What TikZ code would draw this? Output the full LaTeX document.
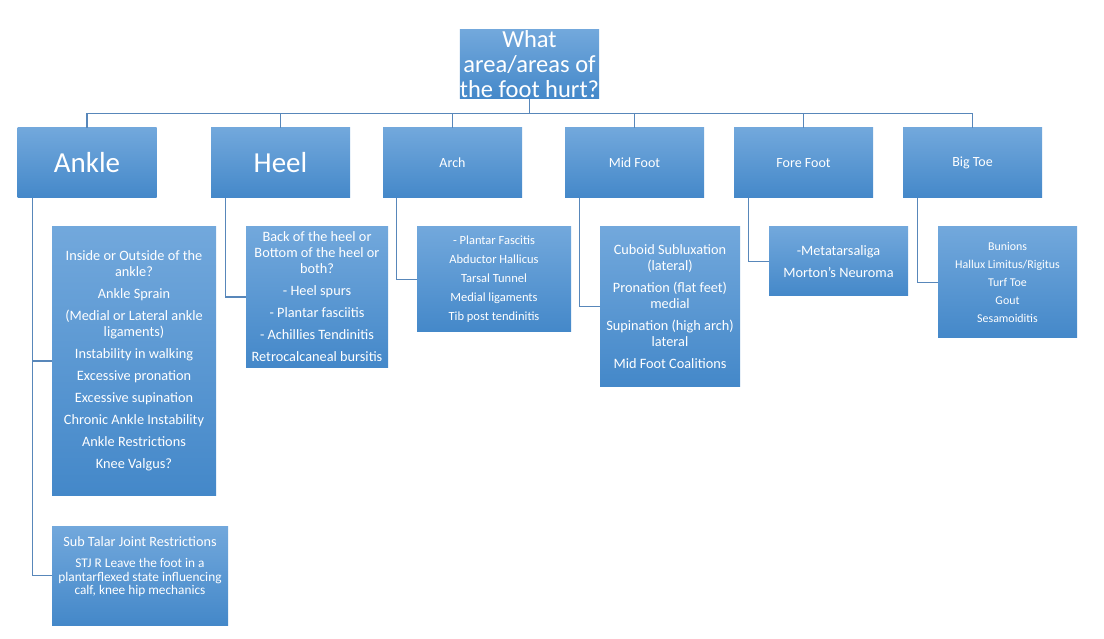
\documentclass[tikz,border=0pt]{standalone}
\usepackage{fontspec}
\setmainfont{Carlito}
\usetikzlibrary{positioning}
\definecolor{boxtop}{RGB}{114,168,220}
\definecolor{boxmid}{RGB}{86,153,218}
\definecolor{boxbot}{RGB}{68,136,201}
\definecolor{linecol}{RGB}{88,135,186}
\tikzstyle{box} = [rectangle, inner sep=0pt, text=white, align=center, top color=boxtop, middle color=boxmid, bottom color=boxbot]
\tikzstyle{head} = [box, minimum width=139pt, minimum height=70pt, font=\fontsize{14}{16}\selectfont]
\tikzstyle{list} = [box, font=\fontsize{14.3}{16}\selectfont]
\tikzstyle{line} = [linecol, line width=1.2pt]

\begin{document}
\begin{tikzpicture}[x=1pt, y=-1pt]
\useasboundingbox (0,0) rectangle (1104,639);
\node (top) [box, minimum width=139pt, minimum height=69pt, font=\fontsize{24.5}{25}\selectfont] at (529.5,64.5) {What\\area/areas of\\the foot hurt?};

\node (ankle) [head, font=\fontsize{29}{32}\selectfont] at (87,163) {Ankle};
\node (heel) [head, font=\fontsize{29}{32}\selectfont] at (280.5,163) {Heel};
\node (arch) [head] at (452.5,163) {Arch};
\node (midfoot) [head] at (634.5,163) {Mid Foot};
\node (forefoot) [head] at (803.5,163) {Fore Foot};
\node (bigtoe) [head] at (972.5,163) {Big Toe};

\node (anklelist) [list, minimum width=164pt, minimum height=268pt] at (134,361) {Inside or Outside of the\\ankle?\\[6pt]Ankle Sprain\\[6pt](Medial or Lateral ankle\\ligaments)\\[6pt]Instability in walking\\[6pt]Excessive pronation\\[6pt]Excessive supination\\[6pt]Chronic Ankle Instability\\[6pt]Ankle Restrictions\\[6pt]Knee Valgus?};
\node (subtalar) [list, minimum width=176pt, minimum height=99pt, font=\fontsize{13.3}{13.5}\selectfont] at (140,575.5) {{\fontsize{14.2}{16}\selectfont Sub Talar Joint Restrictions}\\[8pt]STJ R Leave the foot in a\\plantarflexed state influencing\\calf, knee hip mechanics\\[6pt]\mbox{}};
\node (heellist) [list, minimum width=142pt, minimum height=140pt] at (317,297) {Back of the heel or\\Bottom of the heel or\\both?\\[6pt]- Heel spurs\\[6pt]- Plantar fasciitis\\[6pt]- Achillies Tendinitis\\[6pt]Retrocalcaneal bursitis};
\node (archlist) [list, minimum width=154pt, minimum height=105pt, font=\fontsize{12.5}{19}\selectfont] at (494,279.5) {- Plantar Fascitis\\Abductor Hallicus\\Tarsal Tunnel\\Medial ligaments\\Tib post tendinitis};
\node (midlist) [list, minimum width=140pt, minimum height=159pt] at (670,306.5) {Cuboid Subluxation\\(lateral)\\[6pt]Pronation (flat feet)\\medial\\[6pt]Supination (high arch)\\lateral\\[6pt]Mid Foot Coalitions};
\node (forelist) [list, minimum width=139pt, minimum height=69pt] at (838.5,261.5) {-Metatarsaliga\\[6pt]Morton’s Neuroma};
\node (toelist) [list, minimum width=139pt, minimum height=111pt, font=\fontsize{11.9}{18}\selectfont] at (1007.5,282.5) {Bunions\\Hallux Limitus/Rigitus\\Turf Toe\\Gout\\Sesamoiditis};

% top level to areas
\draw [line] (top.south) -- ++(0,14) -| (ankle.north);
\draw [line] (top.south) -- ++(0,14) -| (heel.north);
\draw [line] (top.south) -- ++(0,14) -| (arch.north);
\draw [line] (top.south) -- ++(0,14) -| (midfoot.north);
\draw [line] (top.south) -- ++(0,14) -| (forefoot.north);
\draw [line] (top.south) -- ++(0,14) -| (bigtoe.north);

% areas to lists
\draw [line] ([xshift=15pt]ankle.south west) |- (anklelist.west);
\draw [line] ([xshift=15pt]ankle.south west) |- (subtalar.west);
\draw [line] ([xshift=15pt]heel.south west) |- (heellist.west);
\draw [line] ([xshift=14pt]arch.south west) |- (archlist.west);
\draw [line] ([xshift=15pt]midfoot.south west) |- (midlist.west);
\draw [line] ([xshift=15pt]forefoot.south west) |- (forelist.west);
\draw [line] ([xshift=15pt]bigtoe.south west) |- (toelist.west);
\end{tikzpicture}
\end{document}
